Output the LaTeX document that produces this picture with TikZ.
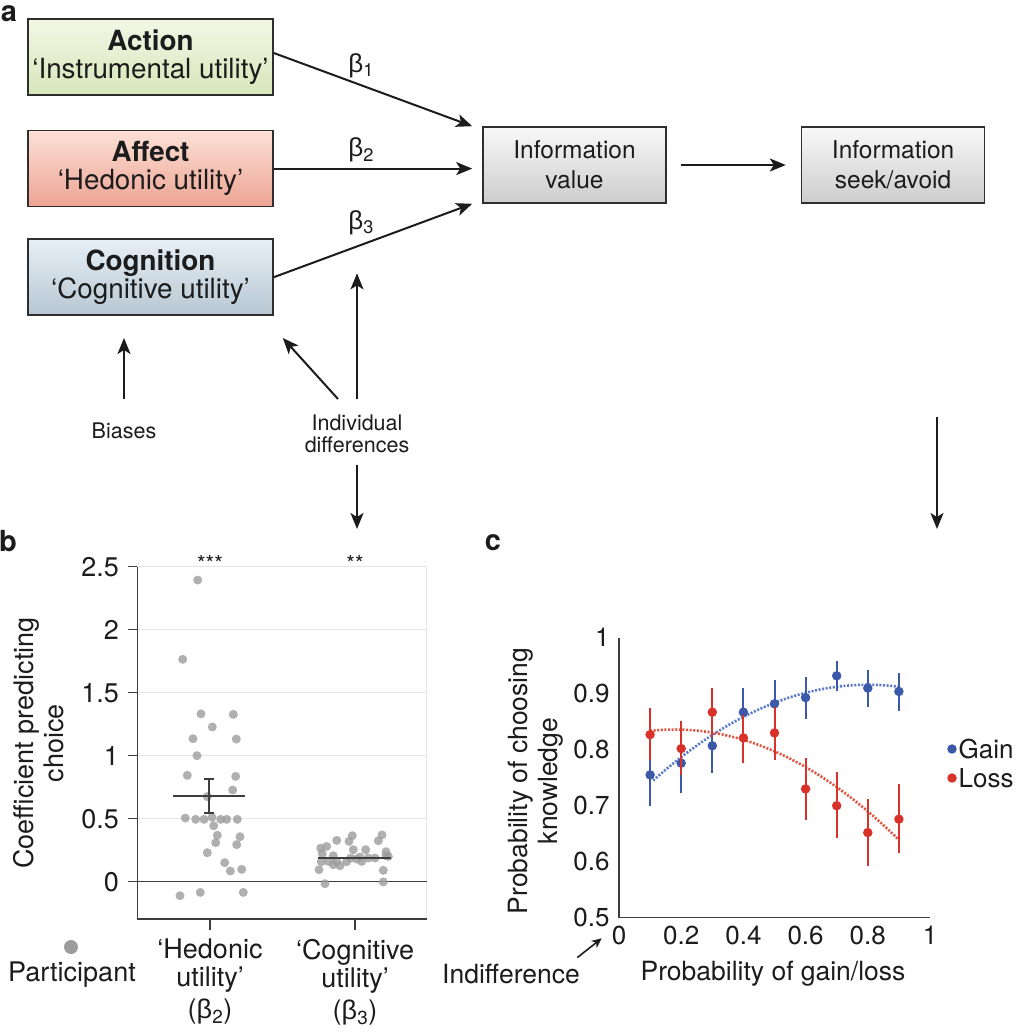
\documentclass[tikz,border=0pt]{standalone}
\usepackage{fontspec}
\setmainfont{TeX Gyre Heros}
\newfontfamily\grkfont{Liberation Sans}
\usetikzlibrary{positioning,arrows.meta}

\definecolor{ink}{HTML}{1C1C1C}
\definecolor{boxline}{HTML}{2E2E2E}
\definecolor{actlight}{HTML}{F2F7E5}
\definecolor{actdark}{HTML}{D8E6BA}
\definecolor{afflight}{HTML}{FCE0D6}
\definecolor{affdark}{HTML}{EDA493}
\definecolor{coglight}{HTML}{E7EFF6}
\definecolor{cogdark}{HTML}{B7C7D3}
\definecolor{infolight}{HTML}{F8F8F8}
\definecolor{infodark}{HTML}{CDCDCD}
\definecolor{dotgray}{HTML}{9C9C9C}
\definecolor{gridgray}{HTML}{E6E6E6}
\definecolor{gainblue}{HTML}{3B59A8}
\definecolor{gainfit}{HTML}{5B78CC}
\definecolor{lossred}{HTML}{D9322B}
\definecolor{lossfit}{HTML}{E2533F}

\newcommand\bet[1]{{\grkfont β}\textsubscript{#1}}

\begin{document}
\begin{tikzpicture}[x=1pt, y=-1pt, >={Stealth[length=16pt, width=13pt, inset=4pt]},
    util box/.style={draw=boxline, line width=1.6pt, minimum width=245pt, minimum height=76pt,
      align=center, text=ink, font=\fontsize{27.8}{28}\selectfont,
      execute at begin node=\rule{0pt}{27pt}},
    info box/.style={util box, minimum width=183pt, top color=infolight, bottom color=infodark,
      font=\fontsize{24.5}{30}\selectfont},
    arr/.style={->, line width=2pt, draw=ink},
    note/.style={align=center, text=ink, font=\fontsize{21.5}{22.5}\selectfont},
    panel/.style={text=ink, font=\fontsize{29}{29}\selectfont\bfseries},
    lbl/.style={align=center, text=ink, font=\fontsize{27}{28}\selectfont},
    ticklbl/.style={text=ink, font=\fontsize{26}{26}\selectfont},
    pdot/.style={circle, fill=dotgray, fill opacity=0.8, inner sep=0pt, minimum size=9pt},
    gain dot/.style={circle, fill=gainblue, inner sep=0pt, minimum size=9.5pt},
    loss dot/.style={circle, fill=lossred, inner sep=0pt, minimum size=9.5pt},
    axisline/.style={draw=ink!85, line width=1.5pt},
    gridline/.style={draw=gridgray, line width=1.2pt}]

  \useasboundingbox (0,0) rectangle (1036,1032);

  % Panel a: utility boxes
  \node[panel, inner sep=1pt] (lbl a) at (9,14) {a};
  \node[util box, top color=actlight, bottom color=actdark] (action) at (150.5,57)
    {\textbf{Action}\\‘Instrumental utility’};
  \node[util box, top color=afflight, bottom color=affdark, below=34pt of action] (affect)
    {\textbf{Affect}\\‘Hedonic utility’};
  \node[util box, top color=coglight, bottom color=cogdark, below=31pt of affect] (cog)
    {\textbf{Cognition}\\‘Cognitive utility’};

  % Value and choice
  \node[info box, execute at begin node=\rule{0pt}{24pt}] (value) at (574.5,165) {Information\\value};
  \node[info box, execute at begin node=\rule{0pt}{24pt}, right=134pt of value] (seek) {Information\\seek/avoid};

  % Weights
  \draw[arr] ([yshift=4pt]action.east) -- ([xshift=-10pt]value.north west)
    node[pos=0.44, above=3pt, text=ink, font=\fontsize{26}{26}\selectfont] {\bet{1}};
  \draw[arr] (affect.east) -- ([xshift=-10pt]value.west |- affect.east)
    node[pos=0.44, above=2pt, text=ink, font=\fontsize{26}{26}\selectfont] {\bet{2}};
  \draw[arr] (cog.east) -- ([xshift=-10pt]value.south west)
    coordinate[pos=0.42] (b3pt)
    node[pos=0.44, above=6pt, text=ink, font=\fontsize{26}{26}\selectfont] {\bet{3}};
  \draw[arr, shorten <=14pt, shorten >=15pt] (value.east) -- (seek.west);

  % Modulators
  \node[note] (biases) at (124,431) {Biases};
  \node[note] (indiv) at (357,434) {Individual\\differences};
  \draw[arr, shorten <=32pt, shorten >=22pt] (biases.center) -- (biases.center |- cog.south);
  \draw[arr, shorten <=35pt, shorten >=27pt] (indiv.center) -- (indiv.center |- b3pt);
  \draw[arr] ([xshift=-19pt, yshift=35pt]indiv.center) -- ([xshift=9pt, yshift=-22pt]cog.south east);
  \coordinate (b top) at (357,529);
  \draw[arr] ([yshift=-31pt]indiv.center) -- (b top);
  \coordinate (seek out) at (937,417);
  \coordinate (c top) at (937,529);
  \draw[arr] (seek out) -- (c top);

  % Panel b
  \node[panel] (lbl b) at (8,541) {b};
  \node[lbl, rotate=90, font=\fontsize{27}{30}\selectfont] (ylab b) at (39,743) {Coefficient predicting\\choice};
  \begin{scope}[shift={(0,881.7)}, y={(0pt,126pt)}]
    \foreach \v in {0.5,1,1.5,2}
      \draw[gridline] (137.3,\v) -- (426.7,\v);
    \draw[gridline] (137.3,2.5) -- (426.7,2.5) -- (426.7,-0.296);
    \draw[axisline] (137.3,0) -- (426.7,0);
    \draw[axisline] (137.3,2.5) -- (137.3,-0.296) -- (426.7,-0.296);
    \foreach \v in {0,0.5,1,1.5,2,2.5}
      \draw[axisline] (128,\v) -- (137.3,\v) node[ticklbl, pos=0, left=5pt, font=\fontsize{27}{27}\selectfont] {\v};
    \draw[axisline] (210,-0.296) -- (210,-0.38);
    \draw[axisline] (355,-0.296) -- (355,-0.38);
    % participants
    \foreach \px/\pv in {197.7/2.394, 182.7/1.765, 201/1.332, 233.3/1.328, 212.3/1.228,
        193/1.135, 236.3/1.132, 197/1.0, 187.3/0.844, 235.7/0.836, 232.7/0.728,
        207.3/0.675, 185.3/0.505, 195.7/0.495, 204/0.495, 212/0.511, 220.7/0.495,
        226.7/0.495, 237.3/0.495, 213.7/0.444, 217.3/0.368, 240/0.357, 215.7/0.310,
        236.7/0.294, 207.3/0.230, 224.7/0.151, 230.3/0.085, 241.7/0.098,
        180/-0.111, 200.3/-0.085, 243.3/-0.085}
      \node[pdot] at (\px,\pv) {};
    \foreach \px/\pv in {320.7/0.267, 326.7/0.280, 336.7/0.328, 349/0.320, 352.3/0.365,
        382/0.371, 378.3/0.325, 322.3/0.222, 353.3/0.254, 365.7/0.254, 386/0.238,
        333.3/0.206, 321.3/0.159, 328.3/0.161, 333.3/0.135, 340/0.127, 346.7/0.159,
        350.7/0.188, 356.7/0.180, 361.7/0.161, 368.3/0.188, 375/0.188, 386/0.206,
        388.3/0.201, 319/0.095, 383.3/0.090, 325/-0.016, 383.3/-0.002,
        336.7/0.161, 360/0.196}
      \node[pdot] at (\px,\pv) {};
    % means
    \draw[axisline, line width=2pt] (173.3,0.683) -- (245,0.683);
    \draw[axisline, line width=2pt] (209,0.542) -- (209,0.817);
    \draw[axisline, line width=2pt] (204,0.542) -- (214,0.542);
    \draw[axisline, line width=2pt] (204,0.817) -- (214,0.817);
    \draw[axisline, line width=2pt] (318.3,0.19) -- (390.7,0.19);
  \end{scope}
  \node[text=ink, font=\fontsize{22}{22}\selectfont] (sig hed) at (210,563) {***};
  \node[text=ink, font=\fontsize{22}{22}\selectfont] (sig cog) at (355,563) {**};
  \node[lbl] (hed) at (210,982) {‘Hedonic\\utility’\\[4pt](\bet{2})};
  \node[lbl] (cogn) at (355,982) {‘Cognitive\\utility’\\[4pt](\bet{3})};
  \node[circle, fill=dotgray, inner sep=0pt, minimum size=14pt] (pkey) at (71,947) {};
  \node[lbl] (pkey lbl) at (72,975) {Participant};

  % Panel c
  \node[panel] (lbl c) at (493,543) {c};
  \node[lbl, rotate=90, font=\fontsize{26.5}{30}\selectfont] (ylab c) at (536,781) {Probability of choosing\\knowledge};
  \begin{scope}[shift={(619,1197.7)}, x={(311pt,0pt)}, y={(0pt,560pt)}]
    \draw[axisline] (0,1) -- (0,0.5) -- (1,0.5);
    \foreach \v in {0.5,0.6,0.7,0.8,0.9,1}
      \node[ticklbl, left=6pt] at (0,\v) {\v};
    \foreach \p in {0,0.2,0.4,0.6,0.8,1}
      \node[ticklbl, below=5pt] at (\p,0.5) {\p};
    % fits
    \draw[gainfit, line width=2.6pt, dash pattern=on 2pt off 1.6pt]
      plot[domain=0.11:0.9, samples=40] (\x, {0.916-0.359*(\x-0.8)^2});
    \draw[lossfit, line width=2.6pt, dash pattern=on 2pt off 1.6pt]
      plot[domain=0.1:0.9, samples=40] (\x, {0.836-0.38*(\x-0.18)^2});
    % gain
    \foreach \p/\v/\lo/\hi in {0.1/0.755/0.699/0.782, 0.2/0.776/0.723/0.805,
        0.3/0.807/0.759/0.853, 0.4/0.867/0.823/0.910, 0.5/0.882/0.838/0.924,
        0.6/0.893/0.855/0.930, 0.7/0.932/0.904/0.959, 0.8/0.910/0.876/0.943,
        0.9/0.904/0.870/0.9375} {
      \draw[gainblue, line width=2pt] (\p,\lo) -- (\p,\hi);
      \node[gain dot] at (\p,\v) {};
    }
    % loss
    \foreach \p/\v/\lo/\hi in {0.1/0.827/0.782/0.875, 0.2/0.802/0.755/0.851,
        0.3/0.867/0.823/0.910, 0.4/0.821/0.776/0.862, 0.5/0.830/0.782/0.877,
        0.6/0.730/0.674/0.786, 0.7/0.700/0.643/0.761, 0.8/0.652/0.593/0.712,
        0.9/0.676/0.616/0.739} {
      \draw[lossred, line width=2pt] (\p,\lo) -- (\p,\hi);
      \node[loss dot] at (\p,\v) {};
    }
  \end{scope}
  \node[lbl, font=\fontsize{26.5}{26.5}\selectfont] (xlab c) at (773,974) {Probability of gain/loss};
  \node[lbl, font=\fontsize{26.5}{26.5}\selectfont] (indiff) at (511,974) {Indifference};
  \coordinate (c origin) at (601.7,938.3);
  \draw[->, >={Stealth[length=10pt, width=9pt, inset=3pt]}, line width=1.6pt, draw=ink]
    ([xshift=-6pt, yshift=3pt]indiff.north east) -- (c origin);

  % Legend
  \node[gain dot] (gain key) at (952,749) {};
  \node[ticklbl, right=0.5pt of gain key, inner sep=1pt] (gain lbl) {Gain};
  \node[loss dot] (loss key) at (952,778) {};
  \node[ticklbl, right=0.5pt of loss key, inner sep=1pt] (loss lbl) {Loss};
\end{tikzpicture}
\end{document}
